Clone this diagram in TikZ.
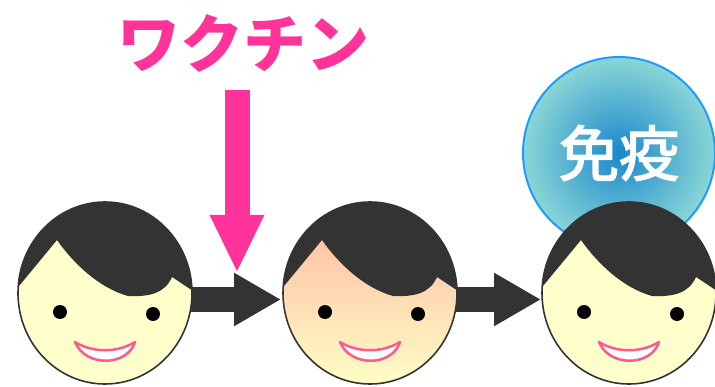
\documentclass[tikz,border=0pt]{standalone}
\usepackage{fontspec}
\newfontfamily\jpfont{Noto Sans CJK JP}
\newfontfamily\jpmid[FakeBold=2.6]{Noto Sans CJK JP}
\usetikzlibrary{arrows.meta,shapes.geometric}

\definecolor{hair}{HTML}{333333}
\definecolor{skin}{HTML}{FFFFCC}
\definecolor{flushtop}{HTML}{FFB4A0}
\definecolor{flushbot}{HTML}{FFFFC6}
\definecolor{vaxpink}{HTML}{FF3399}
\definecolor{lip}{HTML}{FF5A8C}
\definecolor{bubblein}{HTML}{1A88CC}
\definecolor{bubbleout}{HTML}{8AD6D6}
\definecolor{bubblerim}{HTML}{1E9BFF}

\tikzset{
  kid skin/.style={fill=skin},
  headspot/.style={ellipse, minimum width=174pt, minimum height=182pt, inner sep=0pt},
  flow/.style={draw=hair, line width=25pt, -{Triangle[length=47pt,width=50pt]}},
  vaxarrow/.style={draw=vaxpink, line width=25pt, -{Triangle[length=58pt,width=50pt]}},
  kid/.pic={
    \begin{scope}
      \clip (0,0) ellipse [x radius=87pt, y radius=91pt];
      \path[kid skin] (-90pt,-95pt) rectangle (90pt,95pt);
      \fill[hair] (-100pt,-10pt) -- (-48pt,53pt)
        .. controls (-32pt,30pt) and (-6pt,5pt) .. (23pt,-3pt)
        .. controls (45pt,-4pt) and (60pt,0pt) .. (67pt,16pt)
        -- (100pt,-6pt) -- (100pt,100pt) -- (-100pt,100pt) -- cycle;
    \end{scope}
    \draw[hair, line width=1.6pt] (0,0) ellipse [x radius=87pt, y radius=91pt];
    \fill[black] (-45pt,-19pt) circle (7pt);
    \fill[black] (48pt,-21pt) circle (7pt);
    \filldraw[fill=white, draw=lip, line width=2.5pt, line join=round]
      (-30pt,-49pt) .. controls (-12pt,-60pt) and (12pt,-60pt) .. (30pt,-49pt)
      .. controls (22pt,-74pt) and (-20pt,-74pt) .. cycle;
  }
}

\begin{document}
\begin{tikzpicture}[x=1pt,y=1pt]
  \useasboundingbox (0,0) rectangle (715,386);

  % head positions
  \node[headspot] (f1) at (105,93) {};
  \node[headspot] (f2) at (370,93) {};
  \node[headspot] (f3) at (629,93) {};

  % immunity bubble behind the last head
  \node[circle, minimum size=192pt, inner sep=0pt, draw=bubblerim, line width=2pt,
        inner color=bubblein, outer color=bubbleout, text=white,
        font=\jpmid\fontsize{60pt}{60pt}\selectfont] (imm) at (619,233)
        {\raisebox{-5pt}{免疫}};

  % progression arrows between heads
  \coordinate (a1s) at (150,86.5);
  \coordinate (a1e) at (281,86.5);
  \coordinate (a2s) at (420,86.5);
  \coordinate (a2e) at (541,86.5);
  \draw[flow] (a1s) -- (a1e);
  \draw[flow] (a2s) -- (a2e);

  % heads
  \pic at (f1.center) {kid};
  \begin{scope}[kid skin/.style={top color=flushtop, bottom color=flushbot}]
    \pic at (f2.center) {kid};
  \end{scope}
  \pic at (f3.center) {kid};

  % vaccine label and arrow
  \node[text=vaxpink, font=\jpfont\bfseries\fontsize{63pt}{63pt}\selectfont] (vax) at (243,343) {ワクチン};
  \coordinate (vaxtop) at (237,296);
  \coordinate (vaxtip) at (237,113);
  \draw[vaxarrow] (vaxtop) -- (vaxtip);
\end{tikzpicture}
\end{document}
